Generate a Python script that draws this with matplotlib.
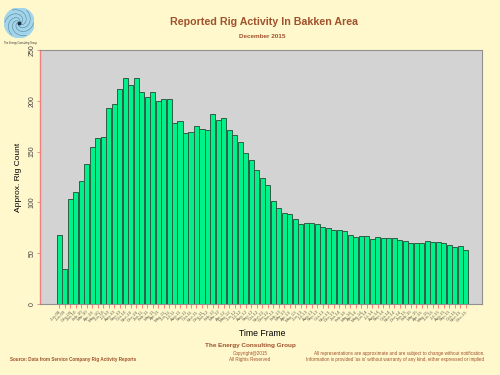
import matplotlib.pyplot as plt
import numpy as np
from matplotlib.patches import Circle

# rig counts
rigs = [68, 34, 103, 110, 121, 138, 155, 163, 164, 193,
        197, 212, 222, 216, 222, 209, 204, 209, 200, 202,
        202, 178, 180, 168, 169, 175, 172, 171, 187, 181,
        183, 171, 166, 159, 149, 142, 132, 124, 117, 101,
        94, 90, 89, 84, 79, 80, 80, 79, 76, 75,
        73, 73, 72, 68, 66, 67, 67, 64, 66, 65,
        65, 65, 63, 62, 60, 60, 60, 62, 61, 61,
        60, 58, 56, 57, 53]

periods = ['Jun-08', 'Jun-09', 'Dec-09',
           'Jan-10', 'Feb-10', 'Mar-10', 'Apr-10', 'May-10', 'Jun-10',
           'Jul-10', 'Aug-10', 'Sep-10', 'Oct-10', 'Nov-10', 'Dec-10',
           'Jan-11', 'Feb-11', 'Mar-11', 'Apr-11', 'May-11', 'Jun-11',
           'Jul-11', 'Aug-11', 'Sep-11', 'Oct-11', 'Nov-11', 'Dec-11',
           'Jan-12', 'Feb-12', 'Mar-12', 'Apr-12', 'May-12', 'Jun-12',
           'Jul-12', 'Aug-12', 'Sep-12', 'Oct-12', 'Nov-12', 'Dec-12',
           'Jan-13', 'Feb-13', 'Mar-13', 'Apr-13', 'May-13', 'Jun-13',
           'Jul-13', 'Aug-13', 'Sep-13', 'Oct-13', 'Nov-13', 'Dec-13',
           'Jan-14', 'Feb-14', 'Mar-14', 'Apr-14', 'May-14', 'Jun-14',
           'Jul-14', 'Aug-14', 'Sep-14', 'Oct-14', 'Nov-14', 'Dec-14',
           'Jan-15', 'Feb-15', 'Mar-15', 'Apr-15', 'May-15', 'Jun-15',
           'Jul-15', 'Aug-15', 'Sep-15', 'Oct-15', 'Nov-15', 'Dec-15']

yticks = [0, 50, 100, 150, 200, 250]

plt.rcParams['font.family'] = ['Liberation Sans', 'DejaVu Sans']

bg = '#FFF8CC'
brown = '#A0522D'

fig = plt.figure(figsize=(5, 3.75), dpi=100, facecolor=bg)
ax = fig.add_axes([0.08, 0.1893, 0.884, 0.6774])
ax.set_facecolor('#D3D3D3')

x = np.arange(len(rigs))
ax.bar(x, rigs, width=0.92, color='#00F08A', edgecolor='#2E5E45', linewidth=0.7)

ax.set_xlim(-3.5, 77)
ax.set_ylim(0, 250)
ax.set_yticks(yticks)
ax.set_yticklabels(yticks, rotation=90, va='center', fontsize=5, color='#404040')
ax.set_xticks(x)
ax.set_xticklabels(periods, rotation=45, ha='right', rotation_mode='anchor',
                   fontsize=3.2, color='#666655')
ax.tick_params(axis='x', colors='#FF7060', length=3, width=0.6, pad=1,
               labelcolor='#666655')
ax.tick_params(axis='y', colors='#F08080', length=2, width=0.6, pad=1,
               labelcolor='#404040')

for s in ['top', 'right', 'bottom']:
    ax.spines[s].set_color('#909090')
    ax.spines[s].set_linewidth(0.8)
ax.spines['left'].set_color('#F08080')
ax.spines['left'].set_linewidth(1.0)

ax.set_ylabel('Approx. Rig Count', fontsize=6, labelpad=5)
fig.text(0.524, 1 - 333 / 375, 'Time Frame', ha='center', va='center', fontsize=6.2)

# titles
fig.text(0.527, 1 - 22 / 375, 'Reported Rig Activity In Bakken Area', ha='center',
         va='center', fontsize=7.7, fontweight='bold', color=brown)
fig.text(0.524, 1 - 36 / 375, 'December 2015', ha='center', va='center',
         fontsize=4.6, fontweight='bold', color=brown)

# footer
fig.text(0.5, 1 - 346 / 375, 'The Energy Consulting Group', ha='center', va='center',
         fontsize=4.6, fontweight='bold', color=brown)
fig.text(0.5, 1 - 353 / 375, 'Copyright@2015', ha='center', va='center',
         fontsize=3.3, color=brown)
fig.text(0.5, 1 - 359.5 / 375, 'All Rights Reserved', ha='center', va='center',
         fontsize=3.3, color=brown)
fig.text(0.02, 1 - 359.5 / 375, 'Source: Data from Service Company Rig Activity Reports',
         ha='left', va='center', fontsize=3.3, fontweight='bold', color=brown)
fig.text(0.968, 1 - 353 / 375,
         'All representations are approximate and are subject to change without notification.',
         ha='right', va='center', fontsize=3.3, color=brown)
fig.text(0.968, 1 - 359.5 / 375,
         "Information is provided 'as is' without warranty of any kind, either expressed or implied",
         ha='right', va='center', fontsize=3.3, color=brown)

# logo
lax = fig.add_axes([0.0086, 0.8995, 0.06, 0.08])
lax.set_xlim(-1, 1)
lax.set_ylim(-1, 1)
lax.axis('off')
lax.add_patch(Circle((0, 0), 1, color='#A3D5EA'))
t = np.linspace(0, 2.6, 50)
for k in range(6):
    a = k * np.pi / 3
    r = 0.1 + 0.33 * t
    lax.plot(r * np.cos(a + t * 1.2), r * np.sin(a + t * 1.2), color='#4A7890', lw=0.35)
lax.plot(0, 0, 'o', color='#203040', ms=1.8)
fig.text(0.04, 1 - 43 / 375, 'The Energy Consulting Group', ha='center', va='center',
         fontsize=1.8, color='#333333')

fig.savefig('out.png', dpi=100, facecolor=bg)
